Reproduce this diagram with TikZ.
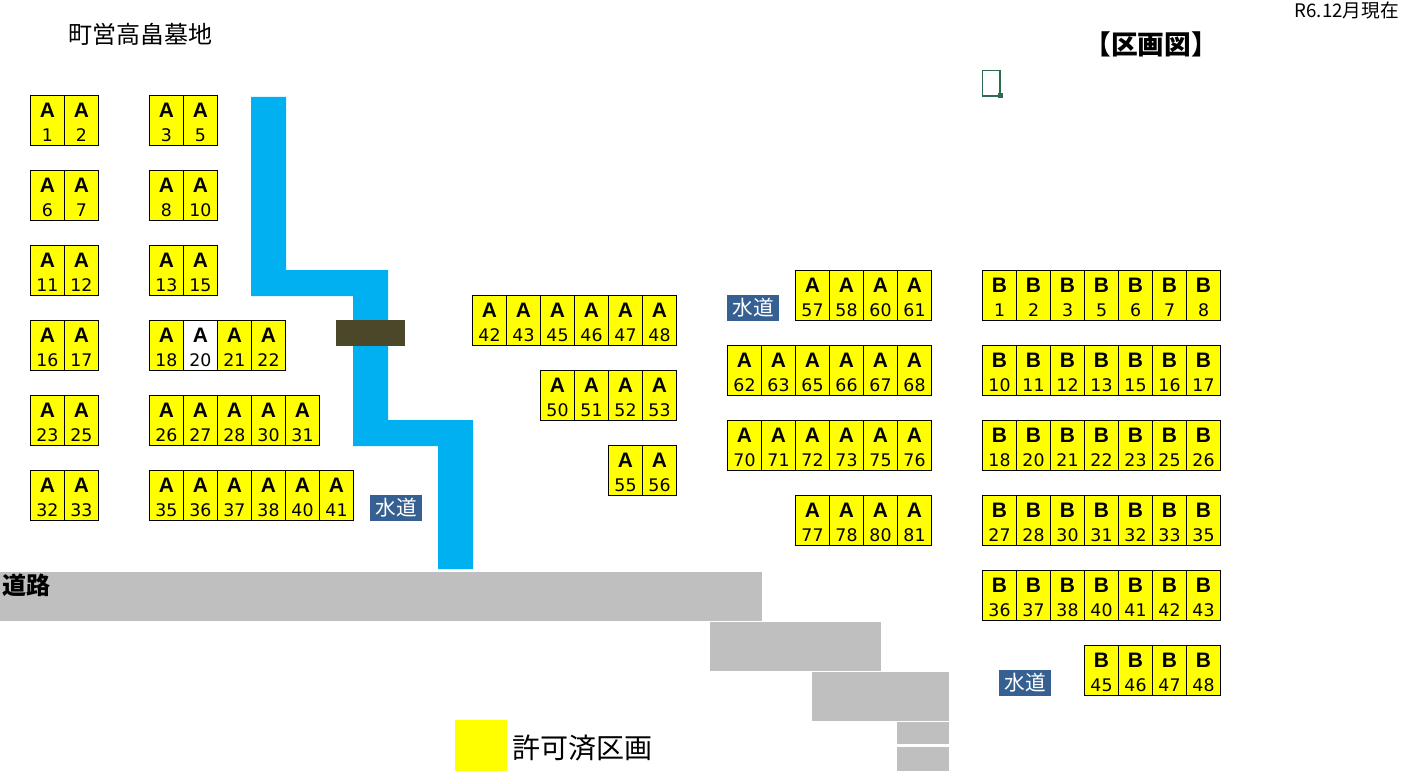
\documentclass[tikz,border=0pt]{standalone}
\usepackage{fontspec}
\setmainfont{Liberation Sans}
\newfontfamily\CjkFont{Noto Sans CJK JP}
\newfontfamily\NumFont{DejaVu Sans}
\definecolor{ColPlot}{RGB}{255,255,0}
\definecolor{ColRiver}{RGB}{0,176,240}
\definecolor{ColBridge}{RGB}{75,71,41}
\definecolor{ColRoad}{RGB}{191,191,191}
\definecolor{ColWater}{RGB}{54,96,146}
\definecolor{ColMark}{RGB}{47,107,79}
\tikzstyle{Plot}=[rectangle,draw=black,fill=ColPlot,line width=.75pt,inner sep=0pt,
minimum width=25.5pt,minimum height=37.5pt,align=center,
font=\fontsize{15.7}{18}\selectfont\bfseries]
\tikzstyle{Free}=[Plot,fill=white]
\tikzstyle{Water}=[rectangle,fill=ColWater,text=white,inner sep=0pt,
minimum width=39pt,minimum height=19.5pt,font=\fontsize{15.5}{18}\selectfont\CjkFont]
\tikzstyle{Label}=[inner sep=0pt,font=\CjkFont]
\tikzstyle{Road}=[fill=ColRoad]
\newcommand{\Up}[1]{\rule{0pt}{13pt}#1}
\newcommand{\Nr}[1]{{\fontsize{13}{18}\selectfont\mdseries\NumFont #1}}

\begin{document}
\begin{tikzpicture}[x=.75pt,y=-.75pt]
        \useasboundingbox(0,0)rectangle(1401,781);
        \fill[ColRiver](251,97)--(286,97)--(286,270)--(388,270)--(388,420)
            --(473,420)--(473,569)--(438,569)--(438,446)--(353,446)
            --(353,296)--(251,296)--cycle;
        \fill[ColBridge](336,320)rectangle(405,345.5);
        \fill[Road](0,572)rectangle(762,621);
        \fill[Road](710,622)rectangle(881,671);
        \fill[Road](812,672)rectangle(949,721);
        \fill[Road](897,722)rectangle(949,744);
        \fill[Road](897,747)rectangle(949,771);
        \draw[ColMark,line width=1.1pt](982.5,70.5)rectangle(1000,96);
        \fill[ColMark](997.5,93)rectangle(1002.5,98);
        \node[Label,font=\fontsize{18}{20}\selectfont\CjkFont](title)at(140,34){町営高畠墓地};
        \node[Label,font=\fontsize{20}{22}\selectfont\bfseries\CjkFont](head)at(1151,44){【区画図】};
        \node[Label,anchor=east,font=\fontsize{14}{15}\selectfont\CjkFont](date)at(1399,10){R6.12月現在};
        \node[Label,anchor=west,font=\fontsize{18}{20}\selectfont\bfseries\CjkFont](road)at(2,585){道路};
        \node[Label,anchor=west,font=\fontsize{21}{24}\selectfont\CjkFont](legend)at(512,748){許可済区画};
        \node[rectangle,fill=ColPlot,inner sep=0pt,minimum width=39pt,minimum height=38.25pt](key)at(481,745.5){};
        \node[Water](w1)at(396,508){水道};
        \node[Water](w2)at(753,308){水道};
        \node[Water](w3)at(1025,683){水道};
        \node[Plot](a1)at(47.5,120.5){\Up{A}\\\Nr{1}};
        \node[Plot](a2)at(81.5,120.5){\Up{A}\\\Nr{2}};
        \node[Plot](a3)at(166.5,120.5){\Up{A}\\\Nr{3}};
        \node[Plot](a5)at(200.5,120.5){\Up{A}\\\Nr{5}};
        \node[Plot](a6)at(47.5,195.5){\Up{A}\\\Nr{6}};
        \node[Plot](a7)at(81.5,195.5){\Up{A}\\\Nr{7}};
        \node[Plot](a8)at(166.5,195.5){\Up{A}\\\Nr{8}};
        \node[Plot](a10)at(200.5,195.5){\Up{A}\\\Nr{10}};
        \node[Plot](a11)at(47.5,270.5){\Up{A}\\\Nr{11}};
        \node[Plot](a12)at(81.5,270.5){\Up{A}\\\Nr{12}};
        \node[Plot](a13)at(166.5,270.5){\Up{A}\\\Nr{13}};
        \node[Plot](a15)at(200.5,270.5){\Up{A}\\\Nr{15}};
        \node[Plot](a16)at(47.5,345.5){\Up{A}\\\Nr{16}};
        \node[Plot](a17)at(81.5,345.5){\Up{A}\\\Nr{17}};
        \node[Plot](a18)at(166.5,345.5){\Up{A}\\\Nr{18}};
        \node[Free](a20)at(200.5,345.5){\Up{A}\\\Nr{20}};
        \node[Plot](a21)at(234.5,345.5){\Up{A}\\\Nr{21}};
        \node[Plot](a22)at(268.5,345.5){\Up{A}\\\Nr{22}};
        \node[Plot](a23)at(47.5,420.5){\Up{A}\\\Nr{23}};
        \node[Plot](a25)at(81.5,420.5){\Up{A}\\\Nr{25}};
        \node[Plot](a26)at(166.5,420.5){\Up{A}\\\Nr{26}};
        \node[Plot](a27)at(200.5,420.5){\Up{A}\\\Nr{27}};
        \node[Plot](a28)at(234.5,420.5){\Up{A}\\\Nr{28}};
        \node[Plot](a30)at(268.5,420.5){\Up{A}\\\Nr{30}};
        \node[Plot](a31)at(302.5,420.5){\Up{A}\\\Nr{31}};
        \node[Plot](a32)at(47.5,495.5){\Up{A}\\\Nr{32}};
        \node[Plot](a33)at(81.5,495.5){\Up{A}\\\Nr{33}};
        \node[Plot](a35)at(166.5,495.5){\Up{A}\\\Nr{35}};
        \node[Plot](a36)at(200.5,495.5){\Up{A}\\\Nr{36}};
        \node[Plot](a37)at(234.5,495.5){\Up{A}\\\Nr{37}};
        \node[Plot](a38)at(268.5,495.5){\Up{A}\\\Nr{38}};
        \node[Plot](a40)at(302.5,495.5){\Up{A}\\\Nr{40}};
        \node[Plot](a41)at(336.5,495.5){\Up{A}\\\Nr{41}};
        \node[Plot](a42)at(489.5,320.5){\Up{A}\\\Nr{42}};
        \node[Plot](a43)at(523.5,320.5){\Up{A}\\\Nr{43}};
        \node[Plot](a45)at(557.5,320.5){\Up{A}\\\Nr{45}};
        \node[Plot](a46)at(591.5,320.5){\Up{A}\\\Nr{46}};
        \node[Plot](a47)at(625.5,320.5){\Up{A}\\\Nr{47}};
        \node[Plot](a48)at(659.5,320.5){\Up{A}\\\Nr{48}};
        \node[Plot](a50)at(557.5,395.5){\Up{A}\\\Nr{50}};
        \node[Plot](a51)at(591.5,395.5){\Up{A}\\\Nr{51}};
        \node[Plot](a52)at(625.5,395.5){\Up{A}\\\Nr{52}};
        \node[Plot](a53)at(659.5,395.5){\Up{A}\\\Nr{53}};
        \node[Plot](a55)at(625.5,470.5){\Up{A}\\\Nr{55}};
        \node[Plot](a56)at(659.5,470.5){\Up{A}\\\Nr{56}};
        \node[Plot](a57)at(812.5,295.5){\Up{A}\\\Nr{57}};
        \node[Plot](a58)at(846.5,295.5){\Up{A}\\\Nr{58}};
        \node[Plot](a60)at(880.5,295.5){\Up{A}\\\Nr{60}};
        \node[Plot](a61)at(914.5,295.5){\Up{A}\\\Nr{61}};
        \node[Plot](a62)at(744.5,370.5){\Up{A}\\\Nr{62}};
        \node[Plot](a63)at(778.5,370.5){\Up{A}\\\Nr{63}};
        \node[Plot](a65)at(812.5,370.5){\Up{A}\\\Nr{65}};
        \node[Plot](a66)at(846.5,370.5){\Up{A}\\\Nr{66}};
        \node[Plot](a67)at(880.5,370.5){\Up{A}\\\Nr{67}};
        \node[Plot](a68)at(914.5,370.5){\Up{A}\\\Nr{68}};
        \node[Plot](a70)at(744.5,445.5){\Up{A}\\\Nr{70}};
        \node[Plot](a71)at(778.5,445.5){\Up{A}\\\Nr{71}};
        \node[Plot](a72)at(812.5,445.5){\Up{A}\\\Nr{72}};
        \node[Plot](a73)at(846.5,445.5){\Up{A}\\\Nr{73}};
        \node[Plot](a75)at(880.5,445.5){\Up{A}\\\Nr{75}};
        \node[Plot](a76)at(914.5,445.5){\Up{A}\\\Nr{76}};
        \node[Plot](a77)at(812.5,520.5){\Up{A}\\\Nr{77}};
        \node[Plot](a78)at(846.5,520.5){\Up{A}\\\Nr{78}};
        \node[Plot](a80)at(880.5,520.5){\Up{A}\\\Nr{80}};
        \node[Plot](a81)at(914.5,520.5){\Up{A}\\\Nr{81}};
        \node[Plot](b1)at(999.5,295.5){\Up{B}\\\Nr{1}};
        \node[Plot](b2)at(1033.5,295.5){\Up{B}\\\Nr{2}};
        \node[Plot](b3)at(1067.5,295.5){\Up{B}\\\Nr{3}};
        \node[Plot](b5)at(1101.5,295.5){\Up{B}\\\Nr{5}};
        \node[Plot](b6)at(1135.5,295.5){\Up{B}\\\Nr{6}};
        \node[Plot](b7)at(1169.5,295.5){\Up{B}\\\Nr{7}};
        \node[Plot](b8)at(1203.5,295.5){\Up{B}\\\Nr{8}};
        \node[Plot](b10)at(999.5,370.5){\Up{B}\\\Nr{10}};
        \node[Plot](b11)at(1033.5,370.5){\Up{B}\\\Nr{11}};
        \node[Plot](b12)at(1067.5,370.5){\Up{B}\\\Nr{12}};
        \node[Plot](b13)at(1101.5,370.5){\Up{B}\\\Nr{13}};
        \node[Plot](b15)at(1135.5,370.5){\Up{B}\\\Nr{15}};
        \node[Plot](b16)at(1169.5,370.5){\Up{B}\\\Nr{16}};
        \node[Plot](b17)at(1203.5,370.5){\Up{B}\\\Nr{17}};
        \node[Plot](b18)at(999.5,445.5){\Up{B}\\\Nr{18}};
        \node[Plot](b20)at(1033.5,445.5){\Up{B}\\\Nr{20}};
        \node[Plot](b21)at(1067.5,445.5){\Up{B}\\\Nr{21}};
        \node[Plot](b22)at(1101.5,445.5){\Up{B}\\\Nr{22}};
        \node[Plot](b23)at(1135.5,445.5){\Up{B}\\\Nr{23}};
        \node[Plot](b25)at(1169.5,445.5){\Up{B}\\\Nr{25}};
        \node[Plot](b26)at(1203.5,445.5){\Up{B}\\\Nr{26}};
        \node[Plot](b27)at(999.5,520.5){\Up{B}\\\Nr{27}};
        \node[Plot](b28)at(1033.5,520.5){\Up{B}\\\Nr{28}};
        \node[Plot](b30)at(1067.5,520.5){\Up{B}\\\Nr{30}};
        \node[Plot](b31)at(1101.5,520.5){\Up{B}\\\Nr{31}};
        \node[Plot](b32)at(1135.5,520.5){\Up{B}\\\Nr{32}};
        \node[Plot](b33)at(1169.5,520.5){\Up{B}\\\Nr{33}};
        \node[Plot](b35)at(1203.5,520.5){\Up{B}\\\Nr{35}};
        \node[Plot](b36)at(999.5,595.5){\Up{B}\\\Nr{36}};
        \node[Plot](b37)at(1033.5,595.5){\Up{B}\\\Nr{37}};
        \node[Plot](b38)at(1067.5,595.5){\Up{B}\\\Nr{38}};
        \node[Plot](b40)at(1101.5,595.5){\Up{B}\\\Nr{40}};
        \node[Plot](b41)at(1135.5,595.5){\Up{B}\\\Nr{41}};
        \node[Plot](b42)at(1169.5,595.5){\Up{B}\\\Nr{42}};
        \node[Plot](b43)at(1203.5,595.5){\Up{B}\\\Nr{43}};
        \node[Plot](b45)at(1101.5,670.5){\Up{B}\\\Nr{45}};
        \node[Plot](b46)at(1135.5,670.5){\Up{B}\\\Nr{46}};
        \node[Plot](b47)at(1169.5,670.5){\Up{B}\\\Nr{47}};
        \node[Plot](b48)at(1203.5,670.5){\Up{B}\\\Nr{48}};
    \end{tikzpicture}
\end{document}
